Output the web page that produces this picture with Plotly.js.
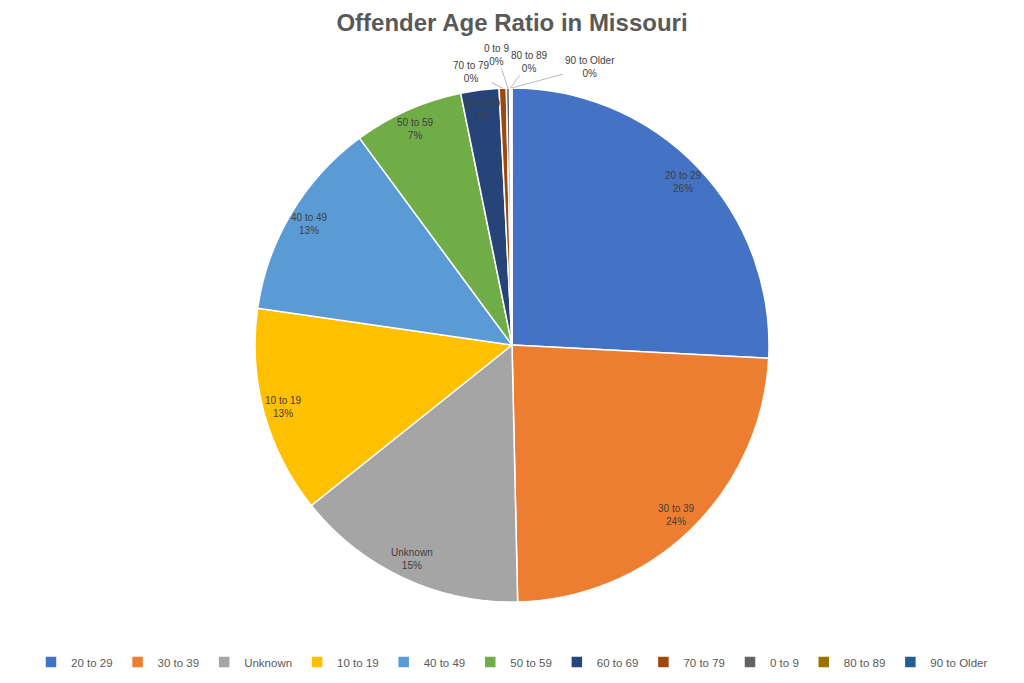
<!DOCTYPE html>
<html>
<head>
<meta charset="utf-8">
<script src="https://cdn.plot.ly/plotly-3.0.1.min.js"></script>
<style>html,body{margin:0;padding:0;background:#fff;}#chart{width:1024px;height:683px;}</style>
</head>
<body>
<div id="chart"></div>
<script>
const categories = ["20 to 29","30 to 39","Unknown","10 to 19","40 to 49","50 to 59","60 to 69","70 to 79","0 to 9","80 to 89","90 to Older"];
const shares = [25.8, 23.8, 14.6, 13.0, 12.6, 6.9, 2.4, 0.45, 0.2, 0.1, 0.05];
const colors = ["#4472C4","#ED7D31","#A5A5A5","#FFC000","#5B9BD5","#70AD47","#264478","#9E480E","#636363","#997300","#255E91"];

const W = 1024, H = 683;
const cx = 512, cy = 345, R = 257;
const labelFont = 'Liberation Sans Narrow, Liberation Sans, sans-serif';

const total = shares.reduce((a,b)=>a+b,0);
const annotations = [];
// text offsets (px) of leader-line labels for the tiny slices, relative to the slice edge
const outsideOffsets = {"70 to 79":[-31,-16], "0 to 9":[-11,-33], "80 to 89":[19,-26], "90 to Older":[78,-21]};
let cum = 0;
shares.forEach((v,i)=>{
  const frac = v/total;
  const th = 2*Math.PI*(cum + frac/2);
  cum += frac;
  const pct = Math.round(frac*100) + "%";
  const txt = categories[i] + "<br>" + pct;
  if (frac >= 0.02) {
    const px = cx + 0.92*R*Math.sin(th), py = cy - 0.92*R*Math.cos(th);
    annotations.push({x:px/W, y:1-py/H, xref:'paper', yref:'paper', xanchor:'center', yanchor:'middle',
      text:txt, showarrow:false, font:{family:labelFont, size:10, color:'#404040'}, align:'center'});
  } else {
    const px = cx + R*Math.sin(th), py = cy - R*Math.cos(th);
    const off = outsideOffsets[categories[i]];
    annotations.push({x:px/W, y:1-py/H, xref:'paper', yref:'paper', text:txt, showarrow:true,
      arrowhead:0, arrowwidth:0.8, arrowcolor:'#A6A6A6', ax:off[0], ay:off[1], standoff:0, startstandoff:0,
      font:{family:labelFont, size:10, color:'#404040'}, align:'center'});
  }
});

const trace = {
  type:'pie', labels:categories, values:shares, sort:false, direction:'clockwise', rotation:0,
  marker:{colors:colors, line:{color:'#ffffff', width:1.5}},
  textinfo:'none', hoverinfo:'label+percent',
  domain:{x:[(cx-R)/W,(cx+R)/W], y:[1-(cy+R)/H, 1-(cy-R)/H]}
};

const layout = {
  width:W, height:H, margin:{l:0,r:0,t:0,b:0}, paper_bgcolor:'#fff',
  title:{text:'<b>Offender Age Ratio in Missouri</b>', x:0.5, xanchor:'center', y:1-23/H, yanchor:'middle',
    font:{family:labelFont, size:24, color:'#595959'}},
  showlegend:true,
  legend:{orientation:'h', x:0.5, xanchor:'center', y:1-662/H, yanchor:'middle',
    font:{family:labelFont, size:11.5, color:'#595959'},
    itemwidth:30, tracegroupgap:0},
  annotations:annotations
};

Plotly.newPlot('chart',[trace],layout,{displayModeBar:false, staticPlot:true});
</script>
</body>
</html>
